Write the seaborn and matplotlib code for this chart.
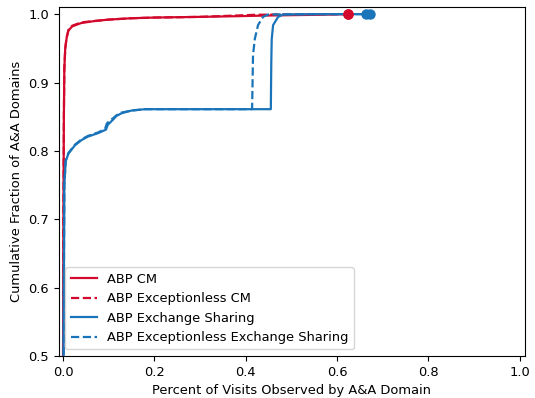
import matplotlib
matplotlib.use("Agg")
import matplotlib.pyplot as plt
import seaborn as sns
import pandas as pd

plt.rcParams["font.size"] = 9.4

# Cumulative distribution of visit share per A&A domain, one curve per list
cm_x = [0.0, 0.001, 0.002, 0.003, 0.005, 0.008, 0.012, 0.02, 0.04, 0.07, 0.1,
        0.15, 0.2, 0.3, 0.38, 0.45, 0.55, 0.624]
cm_y = [0.45, 0.7, 0.85, 0.92, 0.95, 0.965, 0.976, 0.982, 0.987, 0.99, 0.992,
        0.994, 0.995, 0.996, 0.997, 0.998, 0.999, 1.0]

excl_cm_x = [0.0, 0.001, 0.002, 0.003, 0.005, 0.008, 0.012, 0.02, 0.04, 0.07, 0.1,
             0.15, 0.2, 0.3, 0.38, 0.42, 0.47, 0.55, 0.624]
excl_cm_y = [0.45, 0.7, 0.85, 0.92, 0.95, 0.966, 0.977, 0.983, 0.988, 0.99, 0.992,
             0.994, 0.995, 0.996, 0.998, 0.999, 0.9995, 0.9998, 1.0]

es_x = [0.001, 0.002, 0.003, 0.006, 0.012, 0.026, 0.041, 0.055, 0.077, 0.094,
        0.098, 0.104, 0.11, 0.117, 0.128, 0.15, 0.18, 0.2, 0.3, 0.4, 0.455,
        0.456, 0.457, 0.46, 0.471, 0.482, 0.55, 0.673]
es_y = [0.45, 0.6, 0.75, 0.785, 0.796, 0.808, 0.816, 0.821, 0.826, 0.831,
        0.838, 0.842, 0.846, 0.851, 0.855, 0.859, 0.861, 0.861, 0.861, 0.861, 0.861,
        0.93, 0.964, 0.984, 0.996, 0.9995, 1.0, 1.0]

excl_es_x = [0.001, 0.002, 0.003, 0.006, 0.012, 0.026, 0.041, 0.055, 0.077, 0.092,
             0.096, 0.102, 0.11, 0.117, 0.128, 0.15, 0.18, 0.2, 0.3, 0.4, 0.414,
             0.415, 0.416, 0.42, 0.427, 0.438, 0.449, 0.55, 0.663]
excl_es_y = [0.45, 0.6, 0.75, 0.786, 0.797, 0.809, 0.817, 0.822, 0.827, 0.832,
             0.840, 0.844, 0.848, 0.852, 0.856, 0.859, 0.861, 0.861, 0.861, 0.861, 0.861,
             0.90, 0.94, 0.964, 0.984, 0.996, 0.9995, 1.0, 1.0]

labels = ["ABP CM", "ABP Exceptionless CM", "ABP Exchange Sharing",
          "ABP Exceptionless Exchange Sharing"]
xs = [cm_x, excl_cm_x, es_x, excl_es_x]
ys = [cm_y, excl_cm_y, es_y, excl_es_y]
colors = ["#d2092d", "#d2092d", "#1a74b9", "#1a74b9"]
styles = ["-", "--", "-", "--"]

fig = plt.figure(figsize=(5.35, 3.98), dpi=100)
ax = fig.add_axes([0.110, 0.1055, 0.871, 0.8765])

for lab, x, y, c, ls in zip(labels, xs, ys, colors, styles):
    df = pd.DataFrame({"x": x, "y": y})
    sns.lineplot(data=df, x="x", y="y", ax=ax, sort=False, estimator=None,
                 color=c, linestyle=ls, linewidth=1.6, label=lab)
    ax.plot(x[-1], y[-1], marker="o", markersize=6.5, color=c, zorder=5)

ax.set_xlim(-0.009, 1.011)
ax.set_ylim(0.5, 1.0102)
ax.set_xticks([0.0, 0.2, 0.4, 0.6, 0.8, 1.0])
ax.set_yticks([0.5, 0.6, 0.7, 0.8, 0.9, 1.0])
ax.set_xlabel("Percent of Visits Observed by A&A Domain")
ax.set_ylabel("Cumulative Fraction of A&A Domains")
ax.legend(loc="lower left")

fig.savefig("out.png", dpi=100)
